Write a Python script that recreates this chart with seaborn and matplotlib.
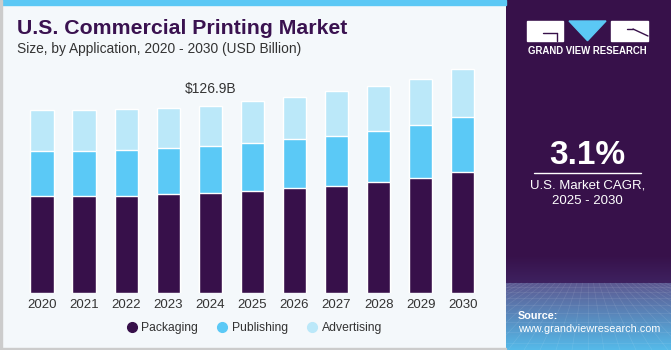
import matplotlib
matplotlib.use('Agg')
import matplotlib.pyplot as plt
import seaborn as sns
import numpy as np
import pandas as pd
from matplotlib.patches import Rectangle, Polygon
from matplotlib.lines import Line2D
from matplotlib.colors import to_rgb

# ---------------- data ----------------
years = ['2020', '2021', '2022', '2023', '2024', '2025', '2026', '2027', '2028', '2029', '2030']
packaging = [65.5, 65.5, 65.9, 66.9, 67.5, 69.1, 70.9, 72.5, 75.2, 78.1, 82.0]
publishing = [30.7, 30.7, 31.0, 31.4, 32.3, 32.5, 33.4, 33.9, 34.6, 35.9, 37.3]
advertising = [27.8, 27.6, 27.6, 26.9, 27.1, 28.2, 28.5, 30.3, 30.7, 31.2, 32.3]
series_names = ['Packaging', 'Publishing', 'Advertising']
highlight_year = '2024'
highlight_label = '$126.9B'
cagr_text = '3.1%'

# ---------------- style ----------------
sns.set_theme(style='white')
plt.rcParams['font.family'] = ['Liberation Sans', 'DejaVu Sans']

c_pack = '#37104a'
c_pub = '#5bc9f6'
c_adv = '#bbe8f9'
bg = '#f4f8fb'
txt = '#333333'

W, H = 671, 350
fig = plt.figure(figsize=(W / 100, H / 100), dpi=100, facecolor=bg)

df = pd.DataFrame({'year': years, 'packaging': packaging,
                   'publishing': publishing, 'advertising': advertising})
df['pp'] = df['packaging'] + df['publishing']
df['total'] = df['pp'] + df['advertising']

ax = fig.add_axes([21 / W, 1 - 293 / H, 462.8 / W, 233 / H])
ax.set_facecolor('none')
bw = 0.555
sns.barplot(data=df, x='year', y='total', color=c_adv, width=bw, saturation=1, ax=ax)
sns.barplot(data=df, x='year', y='pp', color=c_pub, width=bw, saturation=1, ax=ax)
sns.barplot(data=df, x='year', y='packaging', color=c_pack, width=bw, saturation=1, ax=ax)
ax.set_xlim(-0.5, 10.5)
ax.set_ylim(0, 157.9)
for s in ax.spines.values():
    s.set_visible(False)
ax.set_yticks([])
ax.set_xlabel('')
ax.set_ylabel('')
ax.tick_params(axis='x', length=0, pad=4, labelsize=9.5, labelcolor=txt)

hi = years.index(highlight_year)
ax.annotate(highlight_label.replace('$', r'\$'), xy=(hi, df['total'][hi]), xytext=(0, 7),
            textcoords='offset points', ha='center', va='bottom', fontsize=10, color=txt)

# legend
handles = [Line2D([], [], marker='o', ls='', color=c, markersize=7)
           for c in (c_pack, c_pub, c_adv)]
fig.legend(handles, series_names, loc='center', bbox_to_anchor=(254 / W, 1 - 328 / H),
           ncol=3, frameon=False, fontsize=8.7, handletextpad=0.3, columnspacing=1.5,
           handlelength=1, labelcolor=txt)

# title
fig.text(17 / W, 1 - 28 / H, 'U.S. Commercial Printing Market', fontsize=15.3,
         fontweight='bold', color='#3a1250', va='center', ha='left')
fig.text(17 / W, 1 - 49 / H, 'Size, by Application, 2020 - 2030 (USD Billion)', fontsize=9.9,
         color=txt, va='center', ha='left')

# frame pieces for main panel
fig.patches.append(Rectangle((0, 1 - 5 / H), 506 / W, 5 / H, transform=fig.transFigure,
                             color='#5bc8f5', zorder=5))
fig.patches.append(Rectangle((0, 0), 1.5 / W, 1, transform=fig.transFigure,
                             color='#cccccc', zorder=5))
fig.patches.append(Rectangle((0, 0), 506 / W, 2 / H, transform=fig.transFigure,
                             color='#cccccc', zorder=5))

# ---------------- right panel ----------------
rp = fig.add_axes([506 / W, 0, 165 / W, 1])
rp.set_xlim(0, 165)
rp.set_ylim(350, 0)
rp.axis('off')
ys = np.arange(350)
img = np.zeros((350, 1, 3))
top = np.array(to_rgb('#37114a'))
mid = np.array(to_rgb('#3e2260'))
hor = np.array(to_rgb('#5d5a92'))
bot = np.array(to_rgb('#55bbea'))
for y in ys:
    if y < 255:
        c = top
    elif y < 283:
        t = (y - 255) / 28
        c = top * (1 - t) + mid * t
    else:
        t = (y - 283) / 67
        c = hor * (1 - t) + bot * t
    img[y, 0] = c
rp.imshow(img, extent=[0, 165, 350, 0], aspect='auto', zorder=0)

# perspective grid
for k in range(-14, 15):
    x2 = 82 + k * 16
    rp.plot([82 + k * 5.5, x2], [283, 350], color='white', alpha=0.1, lw=0.5, zorder=1)
for yy in [287, 292, 298, 305, 313, 322, 332, 343]:
    rp.plot([0, 165], [yy, yy], color='white', alpha=0.1, lw=0.5, zorder=1)

# logo
rp.add_patch(Rectangle((21, 21), 36, 19.7, color='white', zorder=2))
rp.plot([37, 51], [33, 33], color='#37114a', lw=1, zorder=3)
rp.plot([51, 51], [33, 40.7], color='#37114a', lw=1, zorder=3)
rp.add_patch(Polygon([[63, 21], [100, 21], [81.5, 40.7]], closed=True, color='#5bc8f5', zorder=2))
rp.add_patch(Rectangle((105, 21), 37, 19.7, color='white', zorder=2))
rp.plot([127, 142], [29, 36], color='#37114a', lw=1, zorder=3)
rp.plot([121, 127], [29, 29], color='#37114a', lw=1, zorder=3)
rp.text(81.5, 51, 'GRAND VIEW RESEARCH', color='white', fontsize=6.9,
        fontweight='bold', ha='center', va='center', zorder=3)

rp.text(81.5, 155, cagr_text, color='white', fontsize=24, fontweight='bold',
        ha='center', va='center', zorder=3)
rp.plot([28, 135], [173, 173], color='white', lw=1, zorder=3)
rp.text(81.5, 185, 'U.S. Market CAGR,', color='white', fontsize=9.5, ha='center',
        va='center', zorder=3)
rp.text(81.5, 201, '2025 - 2030', color='white', fontsize=9.5, ha='center',
        va='center', zorder=3)
rp.text(12, 316, 'Source:', color='white', fontsize=7.8, fontweight='bold', ha='left',
        va='center', zorder=3)
rp.text(12, 329, 'www.grandviewresearch.com', color='white', fontsize=7.8, ha='left',
        va='center', zorder=3)

fig.savefig('out.png', dpi=100, facecolor=bg)
